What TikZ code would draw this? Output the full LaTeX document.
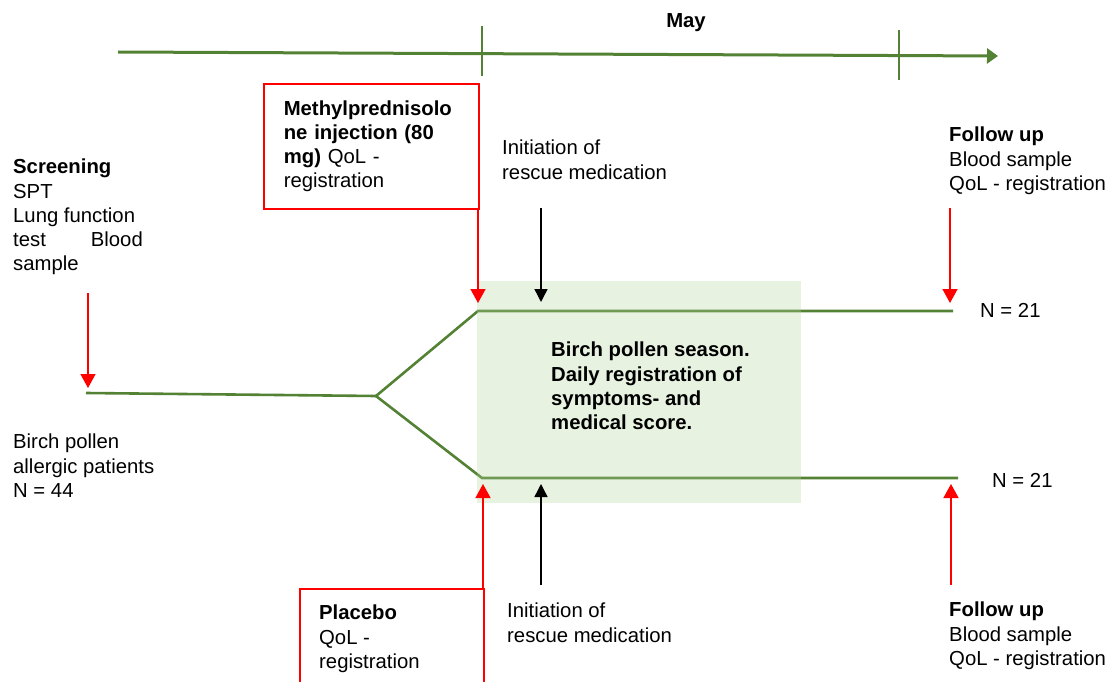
\documentclass[tikz,border=0pt]{standalone}
\usepackage{fontspec}
\setmainfont{Liberation Sans}
\usetikzlibrary{arrows.meta}
\definecolor{tlgreen}{RGB}{84,130,53}
\definecolor{seasongreen}{RGB}{178,212,155}
\begin{document}
\begin{tikzpicture}[x=1pt,y=-1pt,
  every node/.style={font=\fontsize{20.3}{24.2}\selectfont},
  txt/.style={anchor=north west, inner sep=0, align=left},
  greenline/.style={draw=tlgreen, line width=2.6},
  redarrow/.style={draw=red, line width=1.4, -{Triangle[length=14pt,width=15pt]}},
  blackarrow/.style={draw=black, line width=1.4, -{Triangle[length=13pt,width=13pt]}},
  redbox/.style={draw=red, line width=1.6}]
\useasboundingbox (0,0) rectangle (1119,682);
\clip (0,0) rectangle (1119,682);

% timeline
\coordinate (tlS) at (118,52);
\coordinate (tlE) at (998,56);
\draw[draw=tlgreen, line width=3, -{Triangle[length=11pt,width=15pt]}] (tlS) -- (tlE);
\coordinate (tk1a) at (482,26); \coordinate (tk1b) at (482,76);
\coordinate (tk2a) at (899,30); \coordinate (tk2b) at (899,80);
\draw[draw=tlgreen, line width=1.8] (tk1a) -- (tk1b);
\draw[draw=tlgreen, line width=1.8] (tk2a) -- (tk2b);
\node[anchor=north, inner sep=0] (may) at (686,13) {\textbf{May}};

% study lines
\coordinate (start) at (86,393);
\coordinate (split) at (376,396);
\coordinate (topS) at (478,311);
\coordinate (topE) at (953,311);
\coordinate (botS) at (482,478);
\coordinate (botE) at (958,478);
\draw[greenline] (start) -- (split);
\draw[greenline] (split) -- (topS) -- (topE);
\draw[greenline] (split) -- (botS) -- (botE);

% pollen season area
\fill[seasongreen, fill opacity=0.3] (477,281) rectangle (801,503);
\node[txt] (season) at (551,342) {\textbf{Birch pollen season.}\\\textbf{Daily registration of}\\\textbf{symptoms- and}\\\textbf{medical score.}};

% texts
\node[txt] (screen) at (13,159) {\textbf{Screening}\\SPT\\Lung function\\test\hspace{45pt}Blood\\sample};
\node[txt] (patients) at (13,434) {Birch pollen\\allergic patients\\N = 44};
\node[redbox, anchor=north west, inner xsep=20pt, text width=175pt, minimum height=125pt, align=left] (methyl) at (263,83)
  {\textbf{Methylprednisolo}\\\textbf{ne injection (80}\\\textbf{mg)} QoL -\\registration};
\node[txt] (initTop) at (502,140) {Initiation of\\rescue medication};
\node[txt] (fuTop) at (949,127) {\textbf{Follow up}\\Blood sample\\QoL - registration};
\node[txt] (nTop) at (980,303) {N = 21};
\node[txt] (nBot) at (992,473) {N = 21};
\node[txt] (placebo) at (319,605) {\textbf{Placebo}\\QoL -\\registration};
\draw[redbox] (300,589) rectangle (484,740);
\node[txt] (initBot) at (507,603) {Initiation of\\rescue medication};
\node[txt] (fuBot) at (949,602) {\textbf{Follow up}\\Blood sample\\QoL - registration};

% arrows
\coordinate (scrA) at (88,293); \coordinate (scrB) at (88,388);
\draw[redarrow] (scrA) -- (scrB);
\coordinate (mA) at (478,209); \coordinate (mB) at (478,303);
\draw[redarrow] (mA) -- (mB);
\coordinate (iTa) at (541,208); \coordinate (iTb) at (541,302);
\draw[blackarrow] (iTa) -- (iTb);
\coordinate (fTa) at (950,208); \coordinate (fTb) at (950,303);
\draw[redarrow] (fTa) -- (fTb);
\coordinate (pA) at (483,589); \coordinate (pB) at (483,484);
\draw[redarrow] (pA) -- (pB);
\coordinate (iBa) at (541,585); \coordinate (iBb) at (541,484);
\draw[blackarrow] (iBa) -- (iBb);
\coordinate (fBa) at (951,585); \coordinate (fBb) at (951,484);
\draw[redarrow] (fBa) -- (fBb);
\end{tikzpicture}
\end{document}
